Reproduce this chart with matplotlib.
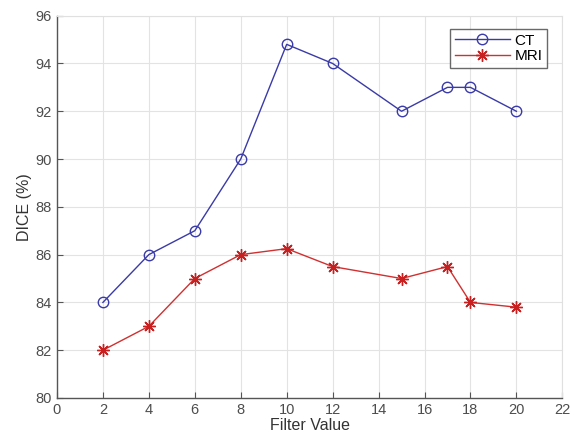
import matplotlib
matplotlib.use("Agg")
import matplotlib.pyplot as plt

# data
filter_values = [2, 4, 6, 8, 10, 12, 15, 17, 18, 20]
dice_ct = [84, 86, 87, 90, 94.8, 94, 92, 93, 93, 92]
dice_mri = [82, 83, 85, 86, 86.25, 85.5, 85, 85.5, 84, 83.8]

plt.rcParams["font.family"] = ["Liberation Sans", "DejaVu Sans"]

TICK_COLOR = "#4d4d4d"

fig = plt.figure(figsize=(5.71, 4.43), dpi=100)
fig.patch.set_facecolor("white")
ax = fig.add_axes([0.0998, 0.1016, 0.885, 0.863])

ax.plot(filter_values, dice_ct, color="#3a3aa8", linewidth=1.0, marker="o",
        markersize=7.5, markerfacecolor="none", markeredgecolor="#3a3aa8",
        markeredgewidth=1.0, label="CT", zorder=3)
# MATLAB-style asterisk marker (8 spokes)
ax.plot(filter_values, dice_mri, color="#d03030", linewidth=1.0, marker=(8, 2, 0),
        markersize=9, markeredgecolor="#c82020", markeredgewidth=1.0,
        label="MRI", zorder=3)

ax.set_xlim(0, 22)
ax.set_ylim(80, 96)
ax.set_xticks(range(0, 23, 2))
ax.set_yticks(range(80, 97, 2))

ax.grid(True, color="#e3e3e3", linewidth=0.8, zorder=0)
ax.set_axisbelow(True)

for side in ["top", "right"]:
    ax.spines[side].set_color("#e0e0e0")
for side in ["left", "bottom"]:
    ax.spines[side].set_color("#555555")
    ax.spines[side].set_linewidth(1.0)

ax.tick_params(direction="in", length=4, colors="#555555", labelcolor=TICK_COLOR,
               labelsize=10.5, top=False, right=False)

ax.set_xlabel("Filter Value", fontsize=11.5, color="#333333", labelpad=1)
ax.set_ylabel("DICE (%)", fontsize=11.5, color="#333333", labelpad=3)

leg = ax.legend(loc="upper right", bbox_to_anchor=(0.985, 0.985), fontsize=11,
                frameon=True, fancybox=False, handlelength=3.6,
                borderpad=0.3, labelspacing=0.1, handletextpad=0.3)
leg.get_frame().set_edgecolor("#444444")
leg.get_frame().set_linewidth(1.0)

fig.savefig("out.png", dpi=100, facecolor="white")
